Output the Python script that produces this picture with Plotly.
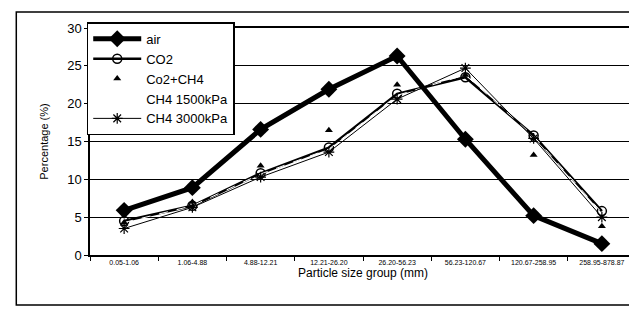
import plotly.graph_objects as go

categories = ["0.05-1.06", "1.06-4.88", "4.88-12.21", "12.21-26.20",
              "26.20-56.23", "56.23-120.67", "120.67-258.95", "258.95-878.87"]
air = [5.9, 8.9, 16.6, 21.9, 26.3, 15.3, 5.2, 1.5]
co2 = [4.5, 6.5, 10.8, 14.2, 21.3, 23.5, 15.8, 5.8]
co2_ch4 = [4.3, 7.0, 11.8, 16.5, 22.5, 23.8, 13.2, 3.8]
ch4_1500 = [4.3, 6.5, 10.7, 14.0, 21.1, 23.8, 15.7, 5.6]
ch4_3000 = [3.5, 6.3, 10.3, 13.6, 20.6, 24.7, 15.4, 5.0]
yticks = [0, 5, 10, 15, 20, 25, 30]

fig = go.Figure()
fig.add_trace(go.Scatter(x=categories, y=co2, name="CO2", mode="lines+markers",
                         line=dict(color="black", width=2.5),
                         marker=dict(symbol="circle-open", size=9, color="black", line=dict(width=1.5)),
                         legendrank=2, legendgroup="b"))
fig.add_trace(go.Scatter(x=categories, y=ch4_1500, name="CH4 1500kPa", mode="lines",
                         line=dict(color="white", width=1, dash="dash"),
                         legendrank=4, legendgroup="d"))
fig.add_trace(go.Scatter(x=categories, y=ch4_3000, name="CH4 3000kPa", mode="lines+markers",
                         line=dict(color="black", width=1),
                         marker=dict(symbol="asterisk-open", size=9, color="black", line=dict(width=1.2, color="black")),
                         legendrank=5, legendgroup="e"))
fig.add_trace(go.Scatter(x=categories, y=co2_ch4, name="Co2+CH4", mode="markers",
                         marker=dict(symbol="triangle-up", size=7, color="black"),
                         legendrank=3, legendgroup="c"))
fig.add_trace(go.Scatter(x=categories, y=air, name="air", mode="lines+markers",
                         line=dict(color="black", width=5),
                         marker=dict(symbol="diamond", size=13, color="black"),
                         legendrank=1, legendgroup="a"))

fig.update_layout(
    width=637, height=309,
    margin=dict(l=82, r=7, t=20, b=62),
    paper_bgcolor="white", plot_bgcolor="white",
    font=dict(family="Liberation Sans, Arial", color="black"),
    legend=dict(x=-0.006, y=1.025, xanchor="left", yanchor="top",
                bgcolor="white", bordercolor="black", borderwidth=1.5,
                font=dict(size=13), itemwidth=48, tracegroupgap=5,
                traceorder="normal"),
    shapes=[dict(type="rect", xref="paper", yref="paper",
                 x0=-0.135, x1=1.004, y0=-0.22, y1=1.07,
                 line=dict(color="black", width=1.5), layer="below")],
)
fig.update_xaxes(type="category", range=[-0.5, 7.5],
                 showline=True, linecolor="black", linewidth=1.5, mirror=True,
                 ticks="outside", tickson="boundaries", ticklen=4, tickcolor="black",
                 tickfont=dict(size=7, color="black"), showgrid=False,
                 title=dict(text="Particle size group (mm)", font=dict(size=12), standoff=2))
fig.update_yaxes(range=[0, 30], tickvals=yticks,
                 showline=True, linecolor="black", linewidth=1.5, mirror=True,
                 ticks="outside", ticklen=4, tickcolor="black",
                 tickfont=dict(size=13), showgrid=True, gridcolor="black", gridwidth=1,
                 zeroline=False,
                 title=dict(text="Percentage (%)", font=dict(size=11), standoff=16))

fig.write_html("out.html")
